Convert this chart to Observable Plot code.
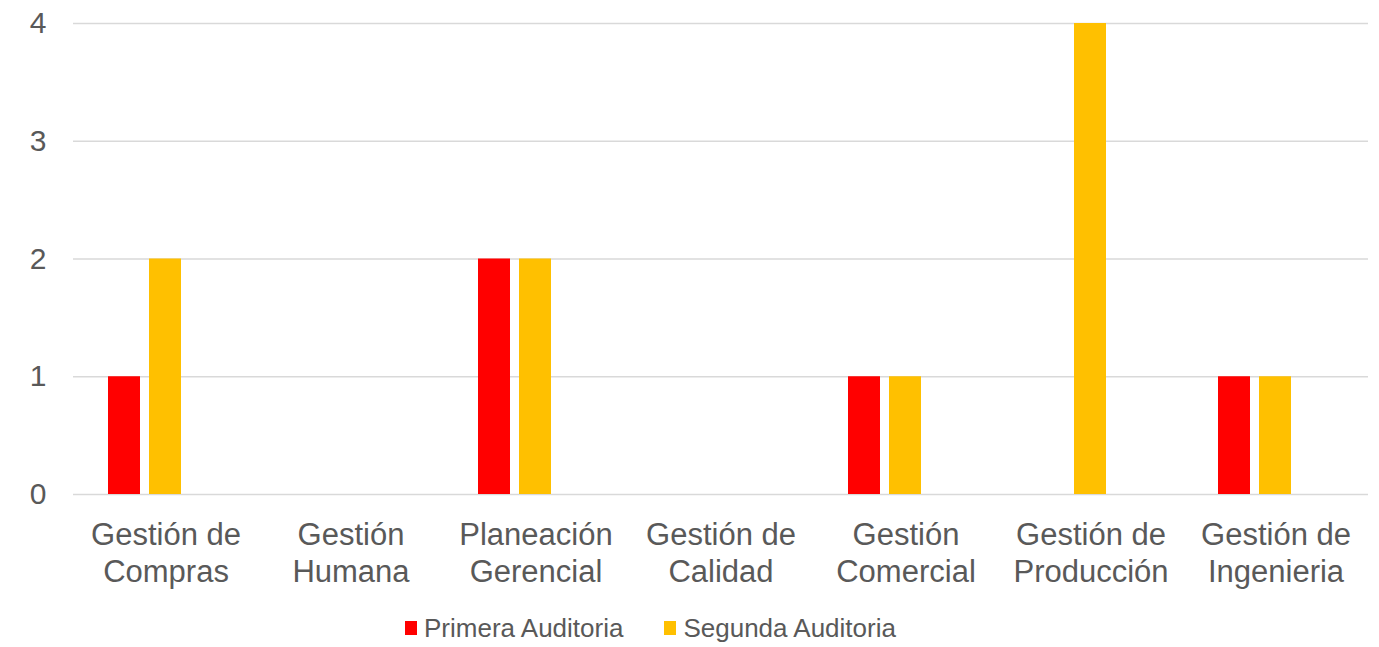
<!DOCTYPE html>
<html><head><meta charset="utf-8">
<script src="https://cdn.jsdelivr.net/npm/d3@7"></script>
<script src="https://cdn.jsdelivr.net/npm/@observablehq/plot@0.6"></script>
<style>
body{margin:0;background:#fff;font-family:"Liberation Sans",Arial,sans-serif;}
#wrap{position:relative;width:1379px;height:647px;overflow:hidden;}
#legend{position:absolute;left:405px;top:613px;display:flex;align-items:center;font-size:26px;color:#595959;line-height:30px;white-space:nowrap;}
.item{display:flex;align-items:center;margin-right:41px;}
.sw{width:12px;height:14px;display:inline-block;margin-right:7px;}
</style></head><body>
<div id="wrap"><div id="chart"></div><div id="legend"></div></div>
<script>
const categories = ["Gestión de Compras","Gestión Humana","Planeación Gerencial","Gestión de Calidad","Gestión Comercial","Gestión de Producción","Gestión de Ingenieria"];
const seriesNames = ["Primera Auditoria","Segunda Auditoria"];
const primera = [1,0,2,0,1,0,1];
const segunda = [2,0,2,0,1,4,1];
const seriesColors = ["#FF0000","#FFC000"];
const yTicks = [0,1,2,3,4];
// third empty slot in each group (the original chart reserves room for it)
const slots = [...seriesNames, "(vacío)"];

const data = [];
categories.forEach((c,i)=>{
  data.push({category:c, series:seriesNames[0], value:primera[i]});
  data.push({category:c, series:seriesNames[1], value:segunda[i]});
});

function twoLines(s){ const k = s.lastIndexOf(" "); return s.slice(0,k) + "\n" + s.slice(k+1); }

const chart = Plot.plot({
  width:1379, height:600,
  marginLeft:71, marginRight:10, marginTop:23, marginBottom:106,
  style:{fontFamily:'"Liberation Sans", Arial, sans-serif', color:"#595959", background:"#fff"},
  fx:{domain:categories, paddingInner:0, paddingOuter:0},
  x:{domain:slots, paddingInner:0.21, paddingOuter:0.82, axis:null},
  y:{domain:[0,4]},
  color:{domain:seriesNames, range:seriesColors},
  marks:[
    Plot.gridY(yTicks, {stroke:"#d9d9d9", strokeOpacity:1, strokeWidth:1.3}),
    Plot.barY(data, {fx:"category", x:"series", y:"value", fill:"series"}),
    Plot.axisY(yTicks, {tickSize:0, tickPadding:27, fontSize:30, label:null, tickFormat:d=>String(d), facetAnchor:"left"}),
    Plot.axisFx({anchor:"bottom", tickSize:0, tickPadding:24, fontSize:31, lineHeight:1.2, label:null, tickFormat:twoLines})
  ]
});
document.getElementById("chart").appendChild(chart);

const legend = document.getElementById("legend");
seriesNames.forEach((n,i)=>{
  const it = document.createElement("div"); it.className="item";
  const sw = document.createElement("span"); sw.className="sw"; sw.style.background=seriesColors[i];
  const tx = document.createElement("span"); tx.textContent=n;
  it.appendChild(sw); it.appendChild(tx); legend.appendChild(it);
});
</script>
</body></html>
